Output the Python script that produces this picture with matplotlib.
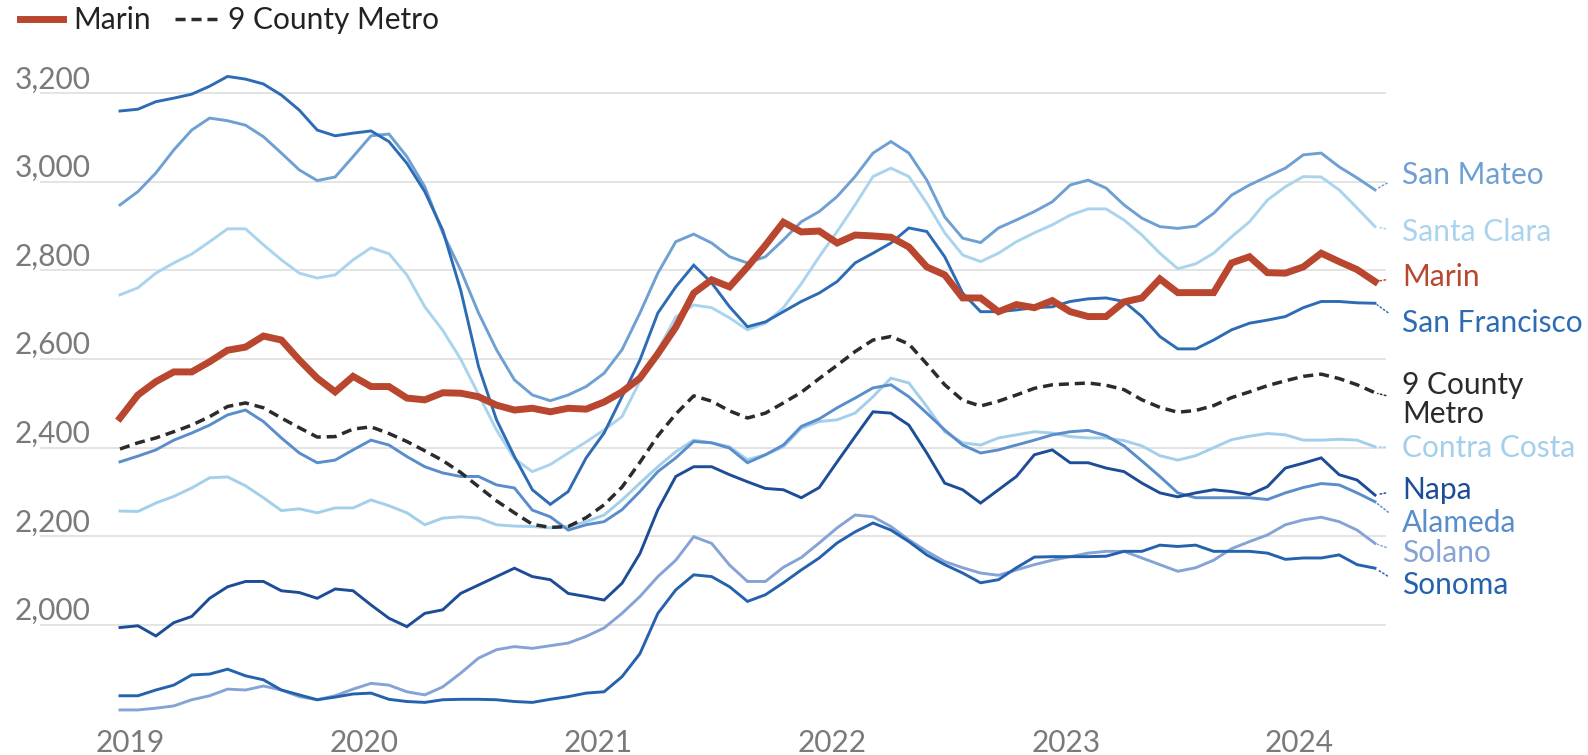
import matplotlib
matplotlib.use('Agg')
import matplotlib.pyplot as plt
from matplotlib.lines import Line2D
import pandas as pd

plt.rcParams['font.family'] = ['Lato', 'DejaVu Sans']

# 28-day reporting periods, Dec 2018 - Apr 2024
periods = pd.date_range('2018-12-16', periods=71, freq='28D')
year_labels = ['2019', '2020', '2021', '2022', '2023', '2024']
y_ticks = [2000, 2200, 2400, 2600, 2800, 3000, 3200]

san_mateo = [2948, 2978, 3020, 3072, 3117, 3144, 3138, 3128, 3102, 3065,
             3027, 3003, 3011, 3057, 3104, 3108, 3057, 2989, 2885, 2801,
             2704, 2621, 2553, 2519, 2506, 2519, 2538, 2568, 2621, 2704,
             2794, 2865, 2882, 2862, 2831, 2817, 2831, 2869, 2910, 2933,
             2967, 3012, 3065, 3091, 3065, 3004, 2921, 2873, 2863, 2896,
             2914, 2933, 2955, 2993, 3004, 2986, 2948, 2918, 2899, 2895,
             2900, 2929, 2970, 2993, 3012, 3031, 3061, 3065, 3034, 3009,
             2982]
santa_clara = [2745, 2761, 2794, 2817, 2837, 2865, 2894, 2894, 2858, 2824,
               2794, 2783, 2790, 2824, 2851, 2838, 2790, 2718, 2665, 2600,
               2520, 2440, 2375, 2346, 2362, 2388, 2413, 2440, 2470, 2550,
               2620, 2695, 2722, 2716, 2693, 2666, 2681, 2716, 2770, 2831,
               2888, 2948, 3012, 3031, 3012, 2952, 2885, 2835, 2820, 2839,
               2865, 2885, 2903, 2925, 2939, 2939, 2914, 2880, 2839, 2804,
               2815, 2839, 2876, 2910, 2959, 2989, 3012, 3011, 2982, 2941,
               2899]
marin = [2467, 2519, 2549, 2571, 2571, 2594, 2620, 2627, 2652, 2643,
         2598, 2557, 2526, 2561, 2538, 2538, 2512, 2508, 2524, 2523,
         2515, 2496, 2485, 2489, 2481, 2489, 2487, 2503, 2526, 2557,
         2612, 2672, 2749, 2779, 2763, 2808, 2857, 2909, 2887, 2889,
         2862, 2880, 2878, 2875, 2853, 2808, 2790, 2738, 2738, 2707,
         2723, 2716, 2732, 2707, 2696, 2696, 2729, 2738, 2781, 2750,
         2750, 2750, 2817, 2831, 2795, 2794, 2808, 2839, 2820, 2802,
         2775]
san_francisco = [3160, 3164, 3181, 3189, 3198, 3216, 3238, 3232, 3221, 3196,
                 3162, 3117, 3104, 3110, 3115, 3091, 3042, 2978, 2891, 2756,
                 2583, 2463, 2380, 2305, 2272, 2301, 2377, 2433, 2515, 2598,
                 2704, 2763, 2812, 2772, 2718, 2673, 2684, 2707, 2730, 2749,
                 2775, 2817, 2839, 2862, 2896, 2888, 2831, 2749, 2707, 2707,
                 2711, 2716, 2718, 2730, 2736, 2738, 2730, 2696, 2651, 2623,
                 2623, 2643, 2666, 2681, 2688, 2696, 2716, 2730, 2730, 2727,
                 2726]
metro = [2397, 2411, 2422, 2436, 2451, 2470, 2493, 2501, 2490, 2467,
         2445, 2424, 2425, 2442, 2447, 2432, 2414, 2393, 2371, 2344,
         2312, 2280, 2253, 2227, 2220, 2222, 2242, 2271, 2311, 2367,
         2427, 2476, 2517, 2505, 2483, 2467, 2478, 2501, 2525, 2556,
         2586, 2617, 2643, 2651, 2634, 2589, 2542, 2507, 2494, 2505,
         2519, 2534, 2542, 2544, 2546, 2541, 2531, 2508, 2491, 2480,
         2484, 2495, 2513, 2526, 2540, 2551, 2561, 2566, 2556, 2542,
         2524]
contra_costa = [2257, 2256, 2275, 2290, 2309, 2332, 2334, 2314, 2287, 2258,
                2262, 2253, 2264, 2264, 2282, 2269, 2253, 2226, 2241, 2244,
                2241, 2226, 2223, 2222, 2219, 2222, 2233, 2248, 2282, 2320,
                2357, 2391, 2417, 2411, 2402, 2373, 2384, 2402, 2444, 2459,
                2463, 2478, 2515, 2557, 2546, 2493, 2436, 2411, 2406, 2422,
                2429, 2436, 2433, 2425, 2422, 2422, 2416, 2404, 2382, 2372,
                2382, 2400, 2418, 2426, 2432, 2429, 2417, 2417, 2419, 2417,
                2402]
napa = [1994, 1998, 1975, 2005, 2019, 2060, 2086, 2098, 2098, 2077,
        2073, 2060, 2081, 2077, 2045, 2015, 1996, 2026, 2034, 2071,
        2090, 2109, 2128, 2109, 2102, 2071, 2064, 2056, 2094, 2161,
        2260, 2335, 2357, 2357, 2339, 2323, 2308, 2305, 2287, 2310,
        2368, 2425, 2481, 2478, 2451, 2388, 2320, 2305, 2275, 2305,
        2335, 2384, 2395, 2366, 2366, 2354, 2346, 2320, 2298, 2289,
        2298, 2305, 2301, 2294, 2312, 2354, 2365, 2377, 2339, 2327,
        2293]
alameda = [2368, 2381, 2395, 2417, 2433, 2451, 2474, 2485, 2459, 2422,
           2388, 2366, 2372, 2395, 2417, 2406, 2380, 2357, 2343, 2335,
           2335, 2316, 2309, 2259, 2244, 2214, 2226, 2233, 2260, 2301,
           2346, 2377, 2414, 2411, 2399, 2366, 2384, 2406, 2448, 2465,
           2490, 2512, 2535, 2542, 2515, 2478, 2440, 2406, 2388, 2395,
           2406, 2417, 2429, 2436, 2439, 2427, 2404, 2370, 2335, 2298,
           2287, 2287, 2287, 2287, 2283, 2298, 2310, 2319, 2316, 2298,
           2278]
solano = [1808, 1808, 1812, 1817, 1831, 1840, 1855, 1853, 1862, 1853,
          1838, 1831, 1840, 1855, 1868, 1864, 1849, 1842, 1860, 1891,
          1925, 1944, 1951, 1947, 1953, 1959, 1974, 1993, 2026, 2064,
          2109, 2146, 2199, 2184, 2135, 2098, 2098, 2130, 2152, 2185,
          2219, 2248, 2244, 2222, 2192, 2166, 2143, 2129, 2117, 2112,
          2124, 2136, 2146, 2154, 2162, 2166, 2166, 2151, 2136, 2121,
          2129, 2146, 2172, 2188, 2203, 2226, 2237, 2243, 2233, 2214,
          2184]
sonoma = [1840, 1840, 1853, 1864, 1887, 1889, 1900, 1885, 1876, 1853,
          1842, 1831, 1837, 1844, 1846, 1832, 1827, 1825, 1831, 1832,
          1832, 1831, 1827, 1825, 1832, 1838, 1846, 1849, 1883, 1935,
          2026, 2079, 2113, 2109, 2086, 2053, 2068, 2095, 2124, 2151,
          2185, 2210, 2230, 2214, 2188, 2158, 2136, 2117, 2095, 2102,
          2129, 2153, 2154, 2154, 2154, 2155, 2166, 2166, 2180, 2177,
          2180, 2166, 2166, 2166, 2162, 2148, 2151, 2151, 2158, 2136,
          2128]

MARIN_RED = '#b9462f'
METRO_GREY = '#2b2b2b'
TICK_GREY = '#7a7a7a'
FS = 21.5

# name, values, colour, linewidth, dashed, y of the end label
counties = [
    ('Santa Clara', santa_clara, '#aad4ee', 2.1, False, 2887),
    ('Contra Costa', contra_costa, '#a3cfea', 2.1, False, 2400),
    ('San Mateo', san_mateo, '#6fa0d3', 2.1, False, 3016),
    ('Solano', solano, '#86a3d6', 2.1, False, 2162),
    ('Alameda', alameda, '#5a8dcc', 2.1, False, 2230),
    ('Sonoma', sonoma, '#2562ad', 2.1, False, 2090),
    ('San Francisco', san_francisco, '#2d6cb5', 2.1, False, 2682),
    ('Napa', napa, '#1c4d96', 2.1, False, 2305),
    ('9 County\nMetro', metro, METRO_GREY, 2.5, True, 2508),
    ('Marin', marin, MARIN_RED, 5.0, False, 2785),
]

fig = plt.figure(figsize=(15.88, 7.55), dpi=100)
ax = fig.add_axes([120 / 1588, 23.8 / 755, 1255 / 1588, 664.5 / 755])
ax.set_xlim(periods[0], periods[-1])
ax.set_ylim(1760, 3260)
for s in ax.spines.values():
    s.set_visible(False)
ax.set_xticks([])
ax.set_yticks([])

# horizontal gridlines reach out under the y labels
ax.hlines(y_ticks, -0.064, 1.009, transform=ax.get_yaxis_transform(),
          color='#e2e2e2', lw=1.3, clip_on=False, zorder=0)
for v in y_ticks:
    ax.annotate(f'{v:,}', xy=(-0.0837, v), xycoords=ax.get_yaxis_transform(),
                xytext=(0, 3.5), textcoords='offset points', ha='left',
                va='baseline', fontsize=FS, color=TICK_GREY)

for yr in year_labels:
    ax.text(pd.Timestamp(f'{yr}-01-01'), -0.0313, yr, transform=ax.get_xaxis_transform(),
            ha='center', va='baseline', fontsize=FS, color=TICK_GREY)

for z, (name, vals, col, lw, dashed, label_y) in enumerate(counties):
    line, = ax.plot(periods, vals, color=col, lw=lw, zorder=2 + z,
                    solid_joinstyle='miter', clip_on=False)
    if dashed:
        line.set_dashes((2.9, 1.7))
    ax.annotate(name, xy=(periods[-1], vals[-1]), xycoords='data',
                xytext=(1.0215, label_y), textcoords=ax.get_yaxis_transform(),
                ha='left', va='center', fontsize=FS, color=col,
                linespacing=1.05, annotation_clip=False,
                arrowprops=dict(arrowstyle='-', color=col, lw=1.1, linestyle=':',
                                shrinkA=10, shrinkB=2, relpos=(0, 0.5)))

handles = [Line2D([], [], color=MARIN_RED, lw=5),
           Line2D([], [], color=METRO_GREY, lw=2.5, dashes=(2.9, 1.7))]
fig.legend(handles, ['Marin', '9 County Metro'], loc='upper left',
           bbox_to_anchor=(20 / 1588, 1 - 6 / 755), ncol=2, frameon=False,
           fontsize=FS, handlelength=1.45, handletextpad=0.33,
           columnspacing=0.8, borderpad=0, borderaxespad=0, labelcolor='#222222')

fig.savefig('out.png', dpi=100, facecolor='white')
